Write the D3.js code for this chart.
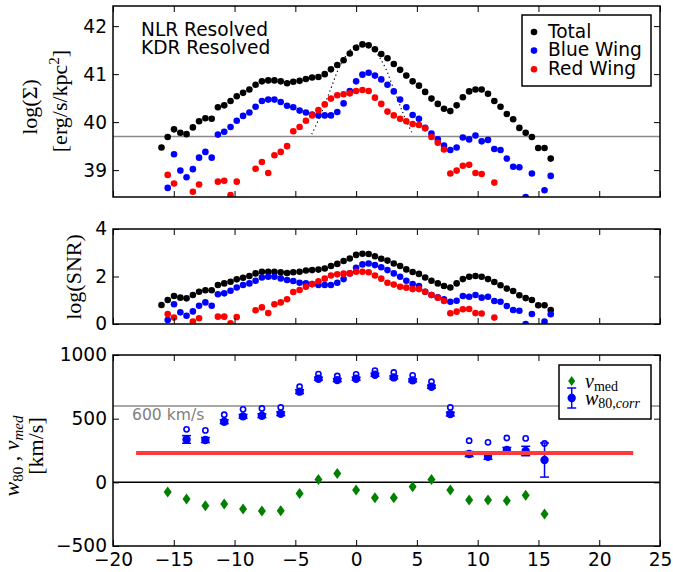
<!DOCTYPE html>
<html><head><meta charset="utf-8">
<script src="https://cdn.jsdelivr.net/npm/d3@7"></script>
<style>body{margin:0;background:#fff}</style>
</head><body><svg id="c" width="673" height="572" xmlns="http://www.w3.org/2000/svg"></svg>
<script>
// ---------------- DATA ----------------
const xPos = [-16.01,-15.50,-14.98,-14.46,-13.95,-13.43,-12.92,-12.40,-11.88,-11.37,-10.85,-10.33,-9.82,-9.30,-8.78,-8.27,-7.75,-7.23,-6.72,-6.20,-5.68,-5.17,-4.65,-4.13,-3.62,-3.10,-2.58,-2.07,-1.55,-1.03,-0.52,0.00,0.52,1.03,1.55,2.07,2.58,3.10,3.62,4.13,4.65,5.17,5.68,6.20,6.72,7.23,7.75,8.27,8.78,9.30,9.82,10.33,10.85,11.37,11.88,12.40,12.92,13.43,13.95,14.46,14.98,15.50,16.01];

const logSigmaTotal = [39.47,39.69,39.85,39.78,39.75,39.89,40.02,40.08,40.07,40.31,40.35,40.44,40.54,40.61,40.68,40.78,40.85,40.87,40.87,40.85,40.81,40.84,40.86,40.90,40.93,40.94,41.00,41.10,41.19,41.29,41.43,41.55,41.62,41.60,41.52,41.42,41.33,41.21,41.09,40.97,40.85,40.76,40.63,40.49,40.38,40.28,40.23,40.35,40.52,40.64,40.68,40.68,40.59,40.44,40.32,40.17,40.06,39.88,39.78,39.69,39.46,39.46,39.24];
const logSigmaBlue = [null,38.63,39.33,38.99,38.85,39.02,39.26,39.38,39.26,39.74,39.80,39.90,40.03,40.13,40.20,40.32,40.44,40.47,40.47,40.42,40.34,40.31,40.24,40.20,40.16,40.14,40.14,40.14,40.21,40.39,40.65,40.85,40.99,41.03,40.97,40.89,40.78,40.64,40.47,40.31,40.15,40.07,39.88,39.76,39.64,39.51,39.42,39.47,39.68,39.64,39.72,39.60,39.63,39.44,39.42,39.24,39.07,39.06,38.44,38.93,null,38.58,38.88];
const logSigmaRed = [null,38.90,38.72,null,null,38.55,38.70,null,null,38.76,38.78,38.48,38.76,null,null,39.03,39.17,38.94,39.31,39.38,39.50,39.81,39.90,40.03,40.14,40.25,40.37,40.49,40.56,40.58,40.60,40.65,40.67,40.65,40.51,40.38,40.22,40.14,40.07,40.02,39.96,39.94,39.87,39.69,39.57,39.43,38.93,38.99,39.09,39.11,38.94,38.92,null,38.74,null,null,null,null,null,null,null,null,null];

const logSnrTotal = [0.80,1.01,1.18,1.11,1.08,1.22,1.36,1.42,1.42,1.64,1.71,1.78,1.88,1.95,2.02,2.13,2.20,2.20,2.20,2.18,2.15,2.18,2.20,2.25,2.27,2.29,2.34,2.44,2.53,2.65,2.76,2.91,2.96,2.95,2.85,2.75,2.67,2.55,2.44,2.30,2.19,2.11,1.96,1.82,1.71,1.60,1.54,1.71,1.89,1.99,2.02,1.99,1.89,1.77,1.63,1.49,1.39,1.21,1.09,1.01,0.79,0.79,0.59];
const logSnrBlue = [null,0.17,0.83,0.49,0.35,0.53,0.77,0.91,0.77,1.25,1.29,1.40,1.54,1.64,1.71,1.82,1.96,1.99,1.99,1.92,1.85,1.81,1.74,1.71,1.68,1.64,1.64,1.64,1.74,1.89,2.13,2.37,2.51,2.55,2.48,2.39,2.27,2.13,1.99,1.82,1.68,1.60,1.36,1.22,1.12,1.04,0.94,0.98,1.18,1.15,1.22,1.11,1.15,0.97,0.94,0.76,0.59,0.56,0.00,0.42,null,0.10,0.41];
const logSnrRed = [null,0.42,0.27,null,null,0.10,0.24,null,null,0.31,0.31,0.03,0.29,null,null,0.58,0.70,0.46,0.83,0.91,1.04,1.35,1.43,1.57,1.68,1.80,1.91,2.04,2.09,2.12,2.13,2.20,2.20,2.18,2.04,1.91,1.74,1.66,1.57,1.53,1.47,1.47,1.36,1.22,1.11,0.97,0.45,0.52,0.62,0.63,0.46,0.44,null,0.27,null,null,null,null,null,null,null,null,null];

// PSF profile (dotted curve, top panel)
const psfX = [-3.65,-3.0,-2.5,-2.0,-1.5,-1.0,-0.5,0.0,0.5,1.0,1.5,2.0,2.5,3.0,3.5,4.0,4.65];
const psfY = [39.75,40.10,40.42,40.75,41.08,41.32,41.50,41.60,41.63,41.60,41.50,41.32,41.08,40.75,40.42,40.10,39.75];

// Velocity panel (coarser bins)
const xBins = [-15.50,-13.95,-12.40,-10.85,-9.30,-7.75,-6.20,-4.65,-3.10,-1.55,0.00,1.55,3.10,4.65,6.20,7.75,9.30,10.85,12.40,13.95,15.50];
const w80Corr = [null,337,332,476,518,523,539,712,814,803,814,845,824,801,751,536,222,201,254,246,175];
const w80Err  = [null,30,20,15,15,15,15,15,12,12,12,12,12,12,12,15,20,20,20,37,134];
const w80Raw  = [null,416,408,531,573,580,588,751,850,835,848,877,863,840,790,588,327,314,348,345,305];
const vMed    = [-76,-131,-184,-170,-210,-225,-223,-87,23,70,-60,-121,-121,-34,23,-60,-139,-139,-144,-102,-249];

const xTicks = [-20,-15,-10,-5,0,5,10,15,20,25];
const sigmaTicks = [39,40,41,42];
const snrTicks = [0,2,4];
const velTicks = [-500,0,500,1000];
const topLegend = ["Total","Blue Wing","Red Wing"];
const seriesColors = ["#000000","#0000ff","#ff0000"];
const sigmaFloor = 39.7;
const velRef = 600;
const redLevel = 230;
const redSpan = [-18.1, 22.8];

// ---------------- LAYOUT ----------------
const svg = d3.select("#c");
const L = 113, R = 660;
const panels = {
  top: {y0: 6, y1: 197, domain: [38.44, 42.42], ticks: sigmaTicks},
  mid: {y0: 229, y1: 324, domain: [0, 4], ticks: snrTicks},
  bot: {y0: 355, y1: 546, domain: [-500, 1000], ticks: velTicks}
};
const x = d3.scaleLinear().domain([-20, 25]).range([L, R]);
const fmt = d => String(d).replace("-", "\u2212");
const sans = "'DejaVu Sans', sans-serif";
const serif = "'Liberation Serif', 'DejaVu Serif', serif";

function makePanel(key) {
  const p = panels[key];
  const y = d3.scaleLinear().domain(p.domain).range([p.y1, p.y0]);
  const g = svg.append("g");
  svg.append("clipPath").attr("id", "clip-" + key)
    .append("rect").attr("x", L).attr("y", p.y0).attr("width", R - L).attr("height", p.y1 - p.y0);
  const plot = g.append("g").attr("clip-path", `url(#clip-${key})`);
  const axes = g.append("g");
  p.y = y; p.plot = plot; p.axes = axes;
  return p;
}

function drawAxes(p, showXLabels) {
  const a = p.axes;
  const ax = (axis, tx, ty, labels) => {
    const gg = a.append("g").attr("transform", `translate(${tx},${ty})`).call(axis);
    gg.select(".domain").remove();
    gg.selectAll(".tick line").attr("stroke", "#000").attr("stroke-width", 1);
    gg.selectAll("text").attr("font-family", sans).attr("font-size", 18.6).attr("fill", "#000");
    if (!labels) gg.selectAll("text").remove();
    return gg;
  };
  ax(d3.axisBottom(x).tickValues(xTicks).tickSizeInner(-6).tickSizeOuter(0).tickPadding(6.5).tickFormat(fmt), 0, p.y1, showXLabels);
  ax(d3.axisTop(x).tickValues(xTicks).tickSizeInner(-6).tickSizeOuter(0), 0, p.y0, false);
  ax(d3.axisLeft(p.y).tickValues(p.ticks).tickSizeInner(-6).tickSizeOuter(0).tickPadding(6).tickFormat(fmt), L, 0, true);
  ax(d3.axisRight(p.y).tickValues(p.ticks).tickSizeInner(-6).tickSizeOuter(0), R, 0, false);
  a.append("rect").attr("x", L).attr("y", p.y0).attr("width", R - L).attr("height", p.y1 - p.y0)
    .attr("fill", "none").attr("stroke", "#000").attr("stroke-width", 1.5);
}

function dots(p, ys, color, r) {
  const data = xPos.map((xv, i) => [xv, ys[i]]).filter(d => d[1] !== null);
  p.plot.append("g").selectAll("circle").data(data).join("circle")
    .attr("cx", d => x(d[0])).attr("cy", d => p.y(d[1])).attr("r", r).attr("fill", color);
}

// ---------------- TOP PANEL ----------------
const pt = makePanel("top");
pt.plot.append("line").attr("x1", L).attr("x2", R).attr("y1", pt.y(sigmaFloor)).attr("y2", pt.y(sigmaFloor))
  .attr("stroke", "#8a8a8a").attr("stroke-width", 1.5);
pt.plot.append("path")
  .attr("d", d3.line().x(d => x(d[0])).y(d => pt.y(d[1])).curve(d3.curveCatmullRom)(psfX.map((v, i) => [v, psfY[i]])))
  .attr("fill", "none").attr("stroke", "#000").attr("stroke-width", 1.2).attr("stroke-dasharray", "1.2,3");
dots(pt, logSigmaTotal, seriesColors[0], 3.3);
dots(pt, logSigmaBlue, seriesColors[1], 3.3);
dots(pt, logSigmaRed, seriesColors[2], 3.3);
drawAxes(pt, false);
svg.append("text").attr("x", 141).attr("y", 35.5).attr("font-family", sans).attr("font-size", 18.6).text("NLR Resolved");
svg.append("text").attr("x", 141).attr("y", 54.2).attr("font-family", sans).attr("font-size", 18.6).text("KDR Resolved");
// legend
const lg = svg.append("g");
lg.append("rect").attr("x", 522).attr("y", 15).attr("width", 129).attr("height", 71)
  .attr("fill", "#fff").attr("stroke", "#000").attr("stroke-width", 1.5);
topLegend.forEach((name, i) => {
  const cy = 32 + i * 18.6;
  lg.append("circle").attr("cx", 534).attr("cy", cy).attr("r", 3.3).attr("fill", seriesColors[i]);
  lg.append("text").attr("x", 548).attr("y", cy + 5.6).attr("font-family", sans).attr("font-size", 18.6).text(name);
});
// y label
svg.append("text").attr("transform", "translate(37,107) rotate(-90)").attr("text-anchor", "middle")
  .attr("font-family", serif).attr("font-size", 22).text("log(\u03A3)");
const tl2 = svg.append("text").attr("transform", "translate(67,101) rotate(-90)").attr("text-anchor", "middle")
  .attr("font-family", serif).attr("font-size", 22);
tl2.append("tspan").text("[erg/s/kpc");
tl2.append("tspan").attr("font-size", 15).attr("dy", -8).text("2");
tl2.append("tspan").attr("dy", 8).text("]");

// ---------------- MIDDLE PANEL ----------------
const pm = makePanel("mid");
dots(pm, logSnrTotal, seriesColors[0], 3.3);
dots(pm, logSnrBlue, seriesColors[1], 3.3);
dots(pm, logSnrRed, seriesColors[2], 3.3);
drawAxes(pm, false);
svg.append("text").attr("transform", "translate(80.5,277) rotate(-90)").attr("text-anchor", "middle")
  .attr("font-family", serif).attr("font-size", 22).text("log(SNR)");

// ---------------- BOTTOM PANEL ----------------
const pb = makePanel("bot");
pb.plot.append("line").attr("x1", L).attr("x2", R).attr("y1", pb.y(velRef)).attr("y2", pb.y(velRef))
  .attr("stroke", "#8a8a8a").attr("stroke-width", 1.5);
pb.plot.append("line").attr("x1", L).attr("x2", R).attr("y1", pb.y(0)).attr("y2", pb.y(0))
  .attr("stroke", "#000").attr("stroke-width", 1.5);
const diamond = (cx, cy, w, h) => `M${cx},${cy - h / 2}L${cx + w / 2},${cy}L${cx},${cy + h / 2}L${cx - w / 2},${cy}Z`;
pb.plot.append("g").selectAll("path").data(xBins.map((v, i) => [v, vMed[i]]).filter(d => d[1] !== null)).join("path")
  .attr("d", d => diamond(x(d[0]), pb.y(d[1]), 8, 11)).attr("fill", "#007f00");
const wData = xBins.map((v, i) => ({x: v, c: w80Corr[i], e: w80Err[i], r: w80Raw[i]})).filter(d => d.c !== null);
pb.plot.append("g").selectAll("circle").data(wData).join("circle")
  .attr("cx", d => x(d.x)).attr("cy", d => pb.y(d.r)).attr("r", 2.6)
  .attr("fill", "#fff").attr("stroke", "#0000ff").attr("stroke-width", 1.6);
const eb = pb.plot.append("g").attr("stroke", "#0000ff").attr("stroke-width", 1.5);
wData.forEach(d => {
  const cx = x(d.x), y1 = pb.y(d.c + d.e), y2 = pb.y(d.c - d.e);
  eb.append("line").attr("x1", cx).attr("x2", cx).attr("y1", y1).attr("y2", y2);
  eb.append("line").attr("x1", cx - 4.5).attr("x2", cx + 4.5).attr("y1", y1).attr("y2", y1);
  eb.append("line").attr("x1", cx - 4.5).attr("x2", cx + 4.5).attr("y1", y2).attr("y2", y2);
});
pb.plot.append("g").selectAll("circle").data(wData).join("circle")
  .attr("cx", d => x(d.x)).attr("cy", d => pb.y(d.c)).attr("r", 4.2).attr("fill", "#0000ff");
pb.plot.append("line").attr("x1", x(redSpan[0])).attr("x2", x(redSpan[1]))
  .attr("y1", pb.y(redLevel)).attr("y2", pb.y(redLevel)).attr("stroke", "#ff3a3a").attr("stroke-width", 4);
svg.append("text").attr("x", 132).attr("y", 420).attr("font-family", sans).attr("font-size", 15.6)
  .attr("fill", "#808080").text("600 km/s");
drawAxes(pb, true);
// legend
const lb = svg.append("g");
lb.append("rect").attr("x", 559).attr("y", 365).attr("width", 92).attr("height", 54)
  .attr("fill", "#fff").attr("stroke", "#000").attr("stroke-width", 1.5);
lb.append("path").attr("d", diamond(571.7, 381, 7, 10)).attr("fill", "#007f00");
lb.append("line").attr("x1", 571.7).attr("x2", 571.7).attr("y1", 388).attr("y2", 408).attr("stroke", "#0000ff").attr("stroke-width", 1.5);
lb.append("line").attr("x1", 567.2).attr("x2", 576.2).attr("y1", 388).attr("y2", 388).attr("stroke", "#0000ff").attr("stroke-width", 1.5);
lb.append("line").attr("x1", 567.2).attr("x2", 576.2).attr("y1", 408).attr("y2", 408).attr("stroke", "#0000ff").attr("stroke-width", 1.5);
lb.append("circle").attr("cx", 571.7).attr("cy", 398).attr("r", 4.2).attr("fill", "#0000ff");
const lt1 = lb.append("text").attr("x", 585).attr("y", 387.5).attr("font-family", serif).attr("font-size", 20);
lt1.append("tspan").attr("font-style", "italic").text("v");
lt1.append("tspan").attr("font-size", 14).attr("dy", 3).text("med");
const lt2 = lb.append("text").attr("x", 585).attr("y", 404.5).attr("font-family", serif).attr("font-size", 20);
lt2.append("tspan").attr("font-style", "italic").text("w");
lt2.append("tspan").attr("font-size", 14).attr("dy", 3).text("80,");
lt2.append("tspan").attr("font-size", 14).attr("font-style", "italic").text("corr");
// y label
const bl1 = svg.append("text").attr("transform", "translate(19,456) rotate(-90)").attr("text-anchor", "middle")
  .attr("font-family", serif).attr("font-size", 22);
bl1.append("tspan").attr("font-style", "italic").text("w");
bl1.append("tspan").attr("font-size", 15).attr("dy", 4).text("80");
bl1.append("tspan").attr("dy", -4).text(" , ");
bl1.append("tspan").attr("font-style", "italic").text("v");
bl1.append("tspan").attr("font-size", 15).attr("font-style", "italic").attr("dy", 4).text("med");
svg.append("text").attr("transform", "translate(43,446) rotate(-90)").attr("text-anchor", "middle")
  .attr("font-family", serif).attr("font-size", 22).text("[km/s]");
</script>
</body></html>
